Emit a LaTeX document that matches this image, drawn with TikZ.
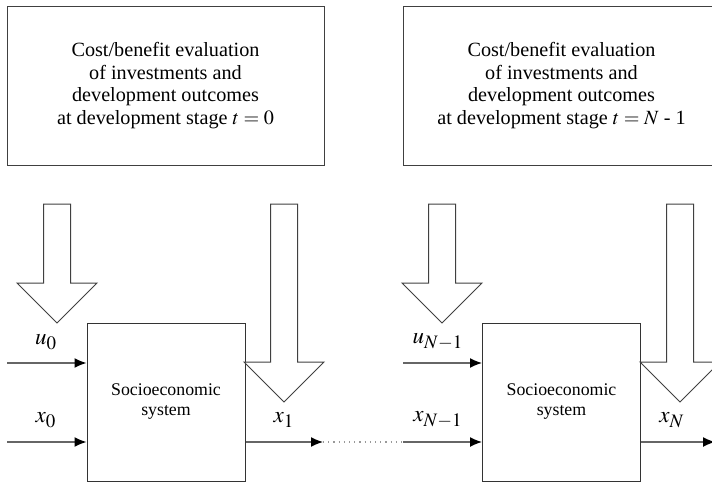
\documentclass[tikz,border=0pt]{standalone}
\usepackage{mathptmx}
\usepackage{fontspec}
\setmainfont{Liberation Serif}
\usetikzlibrary{positioning,arrows.meta}
\DeclareMathSizes{11.5}{11.5}{9.5}{7.5}

\tikzset{
  evalbox/.style={draw=black!75, line width=0.5pt, minimum width=158.5pt, minimum height=79.5pt,
    align=center, font=\fontsize{10.1}{11.3}\selectfont},
  sysbox/.style={draw=black!80, line width=0.5pt, minimum width=79pt, minimum height=79pt,
    align=center, font=\fontsize{8.9}{10}\selectfont},
  flow/.style={-{Latex[length=6pt,width=5pt,color=black]}, draw=black!60, line width=0.7pt},
  lbl/.style={font=\fontsize{11.5}{13}\selectfont},
  fat/.style={draw=black!75, line width=0.5pt, fill=white},
}

% hollow down arrow: x of tip, y of tip
\newcommand{\fatarrow}[2]{%
  \draw[fat] (#1-13.5,204) -- (#1-13.5,#2-40) -- (#1-40,#2-40) -- (#1,#2)
    -- (#1+40,#2-40) -- (#1+13.5,#2-40) -- (#1+13.5,204) -- cycle;}

\begin{document}
\begin{tikzpicture}[x=0.5pt,y=-0.5pt]
\useasboundingbox (0,0) rectangle (712,482);
\clip (0,0) rectangle (712,482);

% evaluation boxes
\node[evalbox] (eval0) at (165.5,85.5) {Cost/benefit evaluation\\of investments and\\development outcomes\\at development stage $t = 0$};
\node[evalbox] (evalN) at (561.5,85.5) {Cost/benefit evaluation\\of investments and\\development outcomes\\at development stage $t = N$ - 1};

% systems
\node[sysbox] (sys0) at (166,402) {Socioeconomic\\system};
\node[sysbox] (sysN) at (561.5,402) {Socioeconomic\\system};

% hollow arrows
\fatarrow{57}{323}
\fatarrow{284}{402}
\fatarrow{442}{323}
\fatarrow{680}{402}

% inputs and outputs
\coordinate (u0) at (7,363);
\coordinate (x0) at (7,442);
\coordinate (x1) at (323,442);
\coordinate (uNm) at (403,363);
\coordinate (xNm) at (403,442);
\coordinate (xN) at (715,442);

\draw[flow] (u0) -- (u0 -| sys0.west);
\draw[flow] (x0) -- (x0 -| sys0.west);
\draw[flow] (x1 -| sys0.east) -- (x1);
\draw[dotted, draw=black!40, line width=0.6pt] (x1) -- (xNm);
\draw[flow] (uNm) -- (uNm -| sysN.west);
\draw[flow] (xNm) -- (xNm -| sysN.west);
\draw[flow] (xN -| sysN.east) -- (xN);

\node[lbl] (lu0) at (46,342) {$u_0$};
\node[lbl] (lx0) at (46,420) {$x_0$};
\node[lbl] (lx1) at (284,420) {$x_1$};
\node[lbl] (luNm) at (438,342) {$u_{N-1}$};
\node[lbl] (lxNm) at (438,420) {$x_{N-1}$};
\node[lbl] (lxN) at (672,420) {$x_N$};
\end{tikzpicture}
\end{document}
